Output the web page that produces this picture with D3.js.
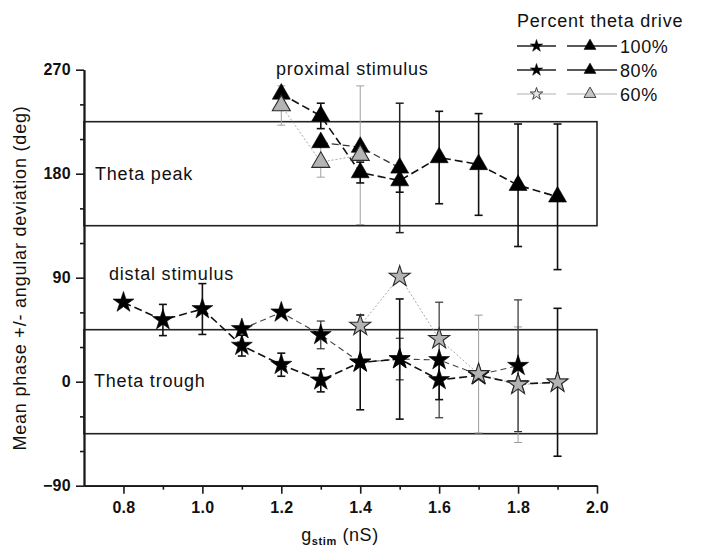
<!DOCTYPE html>
<html>
<head>
<meta charset="utf-8">
<script src="https://cdn.jsdelivr.net/npm/d3@7"></script>
<style>
  body { margin: 0; background: #fff; }
  svg { display: block; }
  text { font-family: Arial, "Liberation Sans", Helvetica, sans-serif; fill: #111; }
</style>
</head>
<body>
<svg id="chart"></svg>
<script>
// x positions of the stimulus conductance steps (nS)
const gTri100 = [1.2, 1.3, 1.4, 1.5, 1.6, 1.7, 1.8, 1.9];
const phaseTri100 = [249, 230, 181, 174, 194, 188, 170, 160];
const devTri100 = [0, 11, 9, 10, 40, 44, 53, 63];

const gTri80 = [1.3, 1.4, 1.5];
const phaseTri80 = [207, 203, 185];
const devTri80 = [0, 0, 56];

const gTri60 = [1.2, 1.3, 1.4];
const phaseTri60 = [239, 190, 196];
const devTri60 = [17, 13, 60];

const gStar100 = [0.8, 0.9, 1.0, 1.1, 1.2, 1.3, 1.4, 1.5, 1.6, 1.7, 1.8, 1.9];
const phaseStar100 = [68.6, 53.4, 62.9, 31.2, 14.7, 1.2, 16.7, 19.6, 1.5, 5.5, -2.0, -0.5];
const devStar100 = [0, 13.5, 22, 9, 10, 10, 41, 52, 17, 0, 0, 64];

const gStar80 = [1.1, 1.2, 1.3, 1.4, 1.5, 1.6, 1.7, 1.8];
const phaseStar80 = [45.6, 60.0, 40.5, 16.7, 19.6, 18.8, 6.0, 13.8];
const devStar80 = [0, 0, 12, 0, 18, 50, 0, 57];

const gStar60 = [1.4, 1.5, 1.6, 1.7, 1.8, 1.9];
const phaseStar60 = [48.5, 90.9, 37.0, 6.6, -2.6, -0.6];
const devStar60 = [0, 0, 0, 51, 50, 64];

// theta peak / trough bands (deg)
const bands = [[135, 225], [-45, 45]];

const xMajor = [0.8, 1.0, 1.2, 1.4, 1.6, 1.8, 2.0];
const xMinor = [0.9, 1.1, 1.3, 1.5, 1.7, 1.9];
const yMajor = [-90, 0, 90, 180, 270];
const yMinor = [-60, -30, 30, 60, 120, 150, 210, 240];

const legendLabels = ["100%", "80%", "60%"];

const width = 702;
const height = 554;

const svg = d3.select("#chart").attr("width", width).attr("height", height);

const x = d3.scaleLinear().domain([0.7, 2.0]).range([84, 597]);
const y = d3.scaleLinear().domain([-90, 270]).range([485.7, 69.7]);

function zip(gs, ps, ds) {
  return gs.map((g, i) => ({ g: g, p: ps[i], d: ds[i] }));
}

const series = [
  { data: zip(gStar60, phaseStar60, devStar60), shape: d3.symbolStar, size: 136, fill: "#b4b4b4", stroke: "#2a2a2a", sw: 1.1, line: "#a8a8a8", lw: 1, dash: "2,2", bar: "#9a9a9a", bw: 1, order: 2 },
  { data: zip(gTri60, phaseTri60, devTri60), shape: d3.symbolTriangle, size: 140, fill: "#b4b4b4", stroke: "#2a2a2a", sw: 1.1, line: "#a8a8a8", lw: 1, dash: "2,2", bar: "#a0a0a0", bw: 1, order: 2 },
  { data: zip(gStar80, phaseStar80, devStar80), shape: d3.symbolStar, size: 136, fill: "#000", stroke: "#000", sw: 0.6, line: "#444", lw: 1.1, dash: "6,4", bar: "#333", bw: 1.2, order: 1 },
  { data: zip(gTri80, phaseTri80, devTri80), shape: d3.symbolTriangle, size: 140, fill: "#000", stroke: "#000", sw: 0.6, line: "#333", lw: 1.3, dash: "7,4", bar: "#222", bw: 1.5, order: 1 },
  { data: zip(gStar100, phaseStar100, devStar100), shape: d3.symbolStar, size: 136, fill: "#000", stroke: "#000", sw: 0.6, line: "#111", lw: 1.6, dash: "8,4", bar: "#111", bw: 1.6, order: 0 },
  { data: zip(gTri100, phaseTri100, devTri100), shape: d3.symbolTriangle, size: 140, fill: "#000", stroke: "#000", sw: 0.6, line: "#111", lw: 1.6, dash: "8,4", bar: "#111", bw: 1.6, order: 0 }
];

// bands
svg.append("g").selectAll("rect")
  .data(bands)
  .enter().append("rect")
    .attr("x", x(0.7))
    .attr("y", d => y(d[1]))
    .attr("width", x(2.0) - x(0.7))
    .attr("height", d => y(d[0]) - y(d[1]))
    .attr("fill", "none")
    .attr("stroke", "#222")
    .attr("stroke-width", 1.6);

// error bars
const capW = 4;
series.forEach(s => {
  const g = svg.append("g")
    .attr("stroke", s.bar)
    .attr("stroke-width", s.bw);
  const bars = s.data.filter(d => d.d > 0);
  g.selectAll("line.v").data(bars).enter().append("line")
    .attr("x1", d => x(d.g)).attr("x2", d => x(d.g))
    .attr("y1", d => y(d.p + d.d)).attr("y2", d => y(d.p - d.d));
  g.selectAll("line.t").data(bars).enter().append("line")
    .attr("x1", d => x(d.g) - capW).attr("x2", d => x(d.g) + capW)
    .attr("y1", d => y(d.p + d.d)).attr("y2", d => y(d.p + d.d));
  g.selectAll("line.b").data(bars).enter().append("line")
    .attr("x1", d => x(d.g) - capW).attr("x2", d => x(d.g) + capW)
    .attr("y1", d => y(d.p - d.d)).attr("y2", d => y(d.p - d.d));
});

// connecting lines
const line = d3.line().x(d => x(d.g)).y(d => y(d.p));
series.forEach(s => {
  svg.append("path")
    .datum(s.data)
    .attr("d", line)
    .attr("fill", "none")
    .attr("stroke", s.line)
    .attr("stroke-width", s.lw)
    .attr("stroke-dasharray", s.dash);
});

// symbols: solid ones first, grey ones on top
series.slice().sort((a, b) => a.order - b.order).forEach(s => {
  svg.append("g").selectAll("path")
    .data(s.data)
    .enter().append("path")
      .attr("transform", d => "translate(" + x(d.g) + "," + y(d.p) + ")")
      .attr("d", d3.symbol().type(s.shape).size(s.size))
      .attr("fill", s.fill)
      .attr("stroke", s.stroke)
      .attr("stroke-width", s.sw);
});

// axes
const axisColor = "#1a1a1a";
function styleAxis(g) {
  g.select(".domain").attr("stroke", axisColor).attr("stroke-width", 1.8);
  g.selectAll(".tick line").attr("stroke", axisColor).attr("stroke-width", 1.6);
  g.selectAll(".tick text")
    .style("font-size", "16px")
    .style("font-weight", "bold")
    .style("letter-spacing", "0.3px")
    .attr("fill", "#222");
}

svg.append("g")
  .attr("transform", "translate(0," + y(-90) + ")")
  .call(d3.axisBottom(x).tickValues(xMajor).tickSize(8).tickSizeOuter(0).tickPadding(8).tickFormat(d3.format(".1f")))
  .call(styleAxis);

svg.append("g")
  .attr("transform", "translate(0," + y(-90) + ")")
  .call(d3.axisBottom(x).tickValues(xMinor).tickSize(4).tickSizeOuter(0).tickFormat(""))
  .call(styleAxis);

svg.append("g")
  .attr("transform", "translate(" + x(0.7) + ",0)")
  .call(d3.axisLeft(y).tickValues(yMajor).tickSize(8).tickSizeOuter(0).tickPadding(5))
  .call(styleAxis);

svg.append("g")
  .attr("transform", "translate(" + x(0.7) + ",0)")
  .call(d3.axisLeft(y).tickValues(yMinor).tickSize(4).tickSizeOuter(0).tickFormat(""))
  .call(styleAxis);

// axis titles
svg.append("text")
  .attr("transform", "translate(26," + 278 + ") rotate(-90)")
  .style("text-anchor", "middle")
  .style("font-size", "18px")
  .style("letter-spacing", "0.8px")
  .text("Mean phase +/- angular deviation (deg)");

const xTitle = svg.append("text")
  .attr("x", 340)
  .attr("y", 541)
  .style("text-anchor", "middle")
  .style("font-size", "18px")
  .style("letter-spacing", "0.6px");
xTitle.append("tspan").text("g");
xTitle.append("tspan").attr("dy", 4).style("font-size", "11px").style("font-weight", "bold").text("stim");
xTitle.append("tspan").attr("dy", -4).text(" (nS)");

// region labels
const notes = [
  { t: "proximal stimulus", x: 276, y: 75 },
  { t: "Theta peak", x: 95, y: 180 },
  { t: "distal stimulus", x: 109, y: 280 },
  { t: "Theta trough", x: 94, y: 387 }
];
svg.append("g").selectAll("text")
  .data(notes)
  .enter().append("text")
    .attr("x", d => d.x)
    .attr("y", d => d.y)
    .style("font-size", "18px")
    .style("letter-spacing", "0.8px")
    .text(d => d.t);

// legend
const legend = svg.append("g");
legend.append("text")
  .attr("x", 517)
  .attr("y", 27)
  .style("font-size", "18px")
  .style("letter-spacing", "0.8px")
  .text("Percent theta drive");

const legendRows = [
  { label: legendLabels[0], y: 46 },
  { label: legendLabels[1], y: 70 },
  { label: legendLabels[2], y: 94 }
];

legendRows.forEach((r, i) => {
  const light = i === 2;
  const lc = light ? "#b0b0b0" : "#222";
  const lw = light ? 1 : 1.6;
  legend.append("line")
    .attr("x1", 517).attr("x2", 556).attr("y1", r.y).attr("y2", r.y)
    .attr("stroke", lc).attr("stroke-width", lw);
  legend.append("line")
    .attr("x1", 567).attr("x2", 617).attr("y1", r.y).attr("y2", r.y)
    .attr("stroke", lc).attr("stroke-width", lw);
  legend.append("path")
    .attr("transform", "translate(536.5," + r.y + ")")
    .attr("d", d3.symbol().type(d3.symbolStar).size(48))
    .attr("fill", light ? "#e4e4e4" : "#000")
    .attr("stroke", light ? "#333" : "#000")
    .attr("stroke-width", light ? 0.9 : 0.5);
  legend.append("path")
    .attr("transform", "translate(590," + r.y + ")")
    .attr("d", d3.symbol().type(d3.symbolTriangle).size(62))
    .attr("fill", light ? "#c4c4c4" : "#000")
    .attr("stroke", light ? "#333" : "#000")
    .attr("stroke-width", light ? 0.9 : 0.5);
  legend.append("text")
    .attr("x", 620)
    .attr("y", r.y + 7)
    .style("font-size", "18px")
    .style("letter-spacing", "0.6px")
    .text(r.label);
});
</script>
</body>
</html>
